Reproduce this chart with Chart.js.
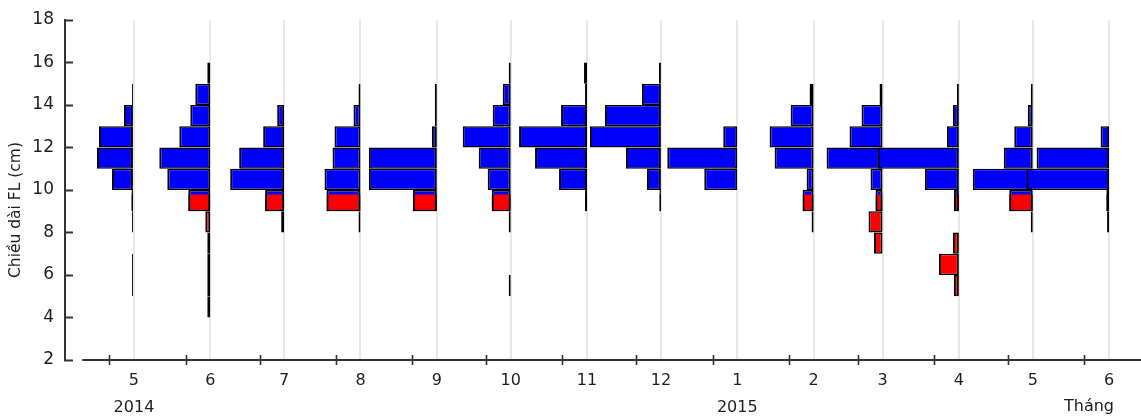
<!DOCTYPE html>
<html lang="vi">
<head>
<meta charset="utf-8">
<title>Phân bố chiều dài FL theo tháng</title>
<script src="https://cdn.jsdelivr.net/npm/chart.js@4.4.1/dist/chart.umd.min.js"></script>
<style>
  html, body { margin: 0; padding: 0; background: #ffffff; }
  canvas { display: block; }
</style>
</head>
<body>
<canvas id="chart" width="1141" height="420"></canvas>
<script>
// Length classes (lower edge, cm); every class is 1 cm wide
const lengthClasses = [4, 5, 6, 7, 8, 9, 10, 11, 12, 13, 14, 15];
const CLASS_WIDTH = 1;
// Fish shorter than this length are drawn red, the rest blue
const LENGTH_CUT = 9.8;

// Sampling months, in days counted from 1 May 2014
const sampleDays  = [0, 31, 61, 92, 123, 153, 184, 214, 245, 276, 304, 335, 365, 396];
const monthLabels = ['5', '6', '7', '8', '9', '10', '11', '12', '1', '2', '3', '4', '5', '6'];
const yearLabels  = ['2014', '', '', '', '', '', '', '', '2015', '', '', '', '', ''];
// Small tick marks along the time axis
const tickDays = [-10, 21, 51, 82, 113, 143, 174, 204, 235, 266, 294, 325, 355, 386];

// Frequency in each length class (same order as lengthClasses)
const f2014_05 = [0, 2, 2, 0, 2, 2.5, 22, 37, 35, 10, 2, 0];
const f2014_06 = [3, 3, 3, 3, 5, 22, 43, 51, 31, 20, 15, 3];
const f2014_07 = [0, 0, 0, 0, 3, 19, 54, 45, 21, 7, 0, 0];
const f2014_08 = [0, 0, 0, 0, 2, 34, 36, 28, 26, 7, 2, 0];
const f2014_09 = [0, 0, 0, 0, 0, 24, 68, 68, 5, 2, 2, 0];
const f2014_10 = [0, 2, 0, 0, 2, 19, 23, 32, 48, 18, 8, 2];
const f2014_11 = [0, 0, 0, 0, 0, 2, 28, 52, 68, 26, 2, 3];
const f2014_12 = [0, 0, 0, 0, 0, 1.5, 14, 35, 71, 56, 19, 2];
const f2015_01 = [0, 0, 0, 0, 0, 0, 33, 70, 14, 0, 0, 0];
const f2015_02 = [0, 0, 0, 0, 2, 11, 7, 39, 44, 23, 4, 0];
const f2015_03 = [0, 0, 0, 8.5, 14, 7, 12, 56, 33, 21, 3, 0];
const f2015_04 = [0, 5, 20, 6, 0, 5, 34, 81, 12, 6, 2, 0];
const f2015_05 = [0, 0, 0, 0, 2, 23.5, 60, 29, 18.5, 5, 2, 0];
const f2015_06 = [0, 0, 0, 0, 2, 2.7, 82.5, 72.5, 8.5, 0, 0, 0];

const monthlyFreq = [f2014_05, f2014_06, f2014_07, f2014_08, f2014_09, f2014_10, f2014_11,
                     f2014_12, f2015_01, f2015_02, f2015_03, f2015_04, f2015_05, f2015_06];

// Horizontal extent of one frequency unit, in days of the time axis
const DAYS_PER_UNIT = 0.406;
// Where the drawn time axis line begins
const AXIS_START_DAY = -21;

const FONT = 'DejaVu Sans';
const TEXT_COLOR = '#1e1e1e';
const AXIS_COLOR = '#333333';

// Each month's histogram grows leftwards from its sampling day
const blueBars = [];
const redBars = [];
const redParts = [];
monthlyFreq.forEach((freq, m) => {
  const day = sampleDays[m];
  freq.forEach((f, k) => {
    if (!f) return;
    const lo = lengthClasses[k];
    const hi = lo + CLASS_WIDTH;
    const span = [day - f * DAYS_PER_UNIT, day];
    if (lo >= LENGTH_CUT) {
      blueBars.push({ y: (lo + hi) / 2, x: span });
    } else if (hi <= LENGTH_CUT) {
      redBars.push({ y: (lo + hi) / 2, x: span });
    } else {
      blueBars.push({ y: (lo + hi) / 2, x: span });
      redParts.push({ y: (lo + LENGTH_CUT) / 2, x: span });
    }
  });
});

const barStyle = {
  borderColor: '#000000',
  borderSkipped: false,
  grouped: false,
  inflateAmount: 0
};

// Time axis line and its crossing tick marks
const timeAxisMarks = {
  id: 'timeAxisMarks',
  afterDraw(chart) {
    const { ctx, scales: { x, y } } = chart;
    const yBase = y.getPixelForValue(y.min);
    ctx.save();
    ctx.strokeStyle = AXIS_COLOR;
    ctx.lineWidth = 2;
    ctx.beginPath();
    ctx.moveTo(x.getPixelForValue(AXIS_START_DAY), yBase);
    ctx.lineTo(chart.width, yBase);
    ctx.stroke();
    ctx.lineWidth = 1.6;
    ctx.beginPath();
    tickDays.forEach(d => {
      const px = Math.round(x.getPixelForValue(d)) + 0.5;
      ctx.moveTo(px, yBase - 5);
      ctx.lineTo(px, yBase + 5);
    });
    ctx.stroke();
    ctx.restore();
  }
};

Chart.defaults.font.family = FONT;
Chart.defaults.color = TEXT_COLOR;

const chart = new Chart(document.getElementById('chart'), {
  type: 'bar',
  data: {
    datasets: [
      Object.assign({
        data: redParts, classSpan: LENGTH_CUT - 9, order: 0,
        backgroundColor: '#ff0000',
        borderWidth: { top: 0, bottom: 1.5, left: 2, right: 2 }
      }, barStyle),
      Object.assign({
        data: redBars, classSpan: CLASS_WIDTH, order: 1,
        backgroundColor: '#ff0000',
        borderWidth: { top: 1.5, bottom: 1.5, left: 2, right: 2 }
      }, barStyle),
      Object.assign({
        data: blueBars, classSpan: CLASS_WIDTH, order: 2,
        backgroundColor: '#0000ff',
        borderWidth: { top: 1.5, bottom: 1.5, left: 2, right: 2 }
      }, barStyle)
    ]
  },
  options: {
    indexAxis: 'y',
    responsive: false,
    animation: false,
    devicePixelRatio: 1,
    events: [],
    layout: { padding: { top: 0, bottom: 0, left: 0, right: 27 } },
    plugins: {
      legend: { display: false },
      tooltip: { enabled: false },
      title: {
        display: true,
        position: 'left',
        text: 'Chiều dài FL (cm)',
        color: TEXT_COLOR,
        font: { family: FONT, size: 15.5, weight: 'normal', lineHeight: 1.2 },
        padding: { top: 7, bottom: 0 }
      }
    },
    scales: {
      x: {
        type: 'linear',
        min: -28,
        max: 398,
        beginAtZero: false,
        afterBuildTicks: axis => { axis.ticks = sampleDays.map(v => ({ value: v })); },
        afterFit: axis => { axis.height = 60; },
        ticks: {
          autoSkip: false,
          maxRotation: 0,
          padding: 7.5,
          color: TEXT_COLOR,
          font: { family: FONT, size: 16, lineHeight: 1.6875 },
          callback: (value, i) => yearLabels[i] ? [monthLabels[i], yearLabels[i]] : monthLabels[i]
        },
        grid: { color: '#e8e8e8', lineWidth: 2, drawTicks: false },
        border: { display: false },
        title: {
          display: true,
          text: 'Tháng',
          align: 'end',
          color: TEXT_COLOR,
          font: { family: FONT, size: 16, lineHeight: 1.2 },
          padding: { top: 0, bottom: 3.4 }
        }
      },
      y: {
        type: 'linear',
        position: 'left',
        min: 2,
        max: 18,
        offset: false,
        afterFit: axis => {
          axis.width = 39.4;
          axis.paddingTop = 20;
          axis.paddingBottom = 0;
        },
        ticks: {
          stepSize: 2,
          padding: 19,
          color: TEXT_COLOR,
          font: { family: FONT, size: 17 }
        },
        grid: {
          offset: false,
          drawOnChartArea: false,
          drawTicks: true,
          tickLength: -8,
          tickColor: AXIS_COLOR,
          tickWidth: 2
        },
        border: { display: true, color: AXIS_COLOR, width: 2 }
      }
    }
  },
  plugins: [timeAxisMarks]
});

// Bar thickness follows the length-class span on the y scale
const pxPerCm = Math.abs(chart.scales.y.getPixelForValue(3) - chart.scales.y.getPixelForValue(2));
chart.data.datasets.forEach(ds => { ds.barThickness = ds.classSpan * pxPerCm; });
chart.update('none');
</script>
</body>
</html>
